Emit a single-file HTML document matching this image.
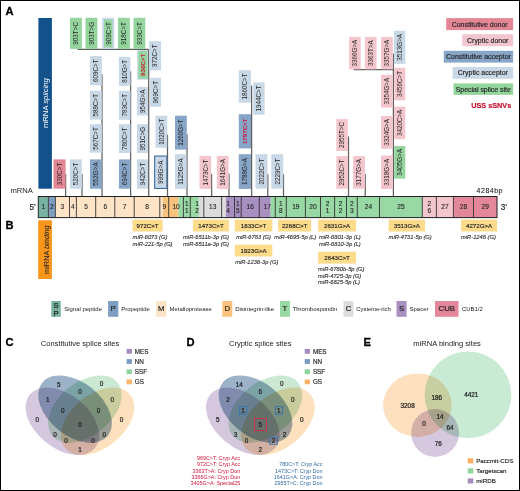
<!DOCTYPE html>
<html><head><meta charset="utf-8"><title>Figure</title>
<style>html,body{margin:0;padding:0;background:#fff;} svg{display:block;} text{font-family:'Liberation Sans', Arial, Helvetica, sans-serif;} .h{stroke:#222;stroke-width:0.22px;} .h2{stroke:#222;stroke-width:0.1px;} .h3{stroke:#222;stroke-width:0.15px;}</style>
</head><body>
<svg width="520" height="491" viewBox="0 0 520 491">
<rect x="0.5" y="0.5" width="519" height="490" fill="#fff" stroke="#000" stroke-width="1"/>
<text x="5.5" y="14.7" font-size="11.2" font-weight="bold" fill="#000" stroke="#000" stroke-width="0.3">A</text>
<text x="5.6" y="229.1" font-size="11.2" font-weight="bold" fill="#000" stroke="#000" stroke-width="0.3">B</text>
<text x="5.6" y="345.7" font-size="11.2" font-weight="bold" fill="#000" stroke="#000" stroke-width="0.3">C</text>
<text x="186.6" y="345.7" font-size="11.2" font-weight="bold" fill="#000" stroke="#000" stroke-width="0.3">D</text>
<text x="363.4" y="345.7" font-size="11.2" font-weight="bold" fill="#000" stroke="#000" stroke-width="0.3">E</text>
<rect x="38.4" y="18" width="13.5" height="170.7" fill="#12518a"/>
<text transform="translate(47.9,103.1) rotate(-90)" text-anchor="middle" font-size="7.7" fill="#fff">mRNA <tspan font-style="italic">splicing</tspan></text>
<rect x="38.2" y="220.3" width="13.7" height="58.7" fill="#f9951a"/>
<text transform="translate(48.6,249.6) rotate(-90)" text-anchor="middle" font-size="7.35" fill="#222">miRNA <tspan font-style="italic">binding</tspan></text>
<line x1="65.6" y1="174" x2="65.6" y2="196.5" stroke="#606060" stroke-width="1.25"/>
<line x1="82.0" y1="174" x2="82.0" y2="196.5" stroke="#606060" stroke-width="1.25"/>
<line x1="102.0" y1="74.2" x2="102.0" y2="196.5" stroke="#606060" stroke-width="1.25"/>
<line x1="130.6" y1="71.4" x2="130.6" y2="196.5" stroke="#606060" stroke-width="1.25"/>
<line x1="148.7" y1="49.4" x2="148.7" y2="196.5" stroke="#606060" stroke-width="1.25"/>
<line x1="167.5" y1="134.6" x2="167.5" y2="196.5" stroke="#606060" stroke-width="1.25"/>
<line x1="187.0" y1="134.6" x2="187.0" y2="196.5" stroke="#606060" stroke-width="1.25"/>
<line x1="211.6" y1="173.8" x2="211.6" y2="196.5" stroke="#606060" stroke-width="1.25"/>
<line x1="229.0" y1="173.8" x2="229.0" y2="196.5" stroke="#606060" stroke-width="1.25"/>
<line x1="251.6" y1="85.6" x2="251.6" y2="196.5" stroke="#606060" stroke-width="1.25"/>
<line x1="267.8" y1="174.3" x2="267.8" y2="196.5" stroke="#606060" stroke-width="1.25"/>
<line x1="283.5" y1="174.3" x2="283.5" y2="196.5" stroke="#606060" stroke-width="1.25"/>
<line x1="348.5" y1="136.6" x2="348.5" y2="196.5" stroke="#606060" stroke-width="1.25"/>
<line x1="365.2" y1="174.1" x2="365.2" y2="196.5" stroke="#606060" stroke-width="1.25"/>
<line x1="393.4" y1="53.4" x2="393.4" y2="196.5" stroke="#606060" stroke-width="1.25"/>
<line x1="77.5" y1="49.4" x2="148.7" y2="49.4" stroke="#606060" stroke-width="1.25"/>
<line x1="353.6" y1="69.7" x2="393.4" y2="69.7" stroke="#606060" stroke-width="1.25"/>
<rect x="70.0" y="17.8" width="11.90" height="31.10" fill="#94d59e"/>
<text transform="translate(78.25,33.35) rotate(-90)" text-anchor="middle" font-size="6.3" fill="#222222">903T&gt;C</text>
<rect x="85.5" y="17.8" width="11.90" height="31.10" fill="#94d59e"/>
<text transform="translate(93.75,33.35) rotate(-90)" text-anchor="middle" font-size="6.3" fill="#222222">903T&gt;G</text>
<rect x="102.2" y="17.8" width="12.00" height="31.10" fill="#c9d8e6"/>
<rect x="104.0" y="19.5" width="8.40" height="27.90" fill="#94d59e"/>
<text transform="translate(110.50,33.35) rotate(-90)" text-anchor="middle" font-size="6.3" fill="#222222">909C&gt;T</text>
<rect x="118.0" y="17.8" width="11.80" height="31.10" fill="#94d59e"/>
<text transform="translate(126.20,33.35) rotate(-90)" text-anchor="middle" font-size="6.3" fill="#222222">918C&gt;T</text>
<rect x="133.5" y="17.8" width="11.80" height="31.10" fill="#94d59e"/>
<text transform="translate(141.70,33.35) rotate(-90)" text-anchor="middle" font-size="6.3" fill="#222222">933C&gt;T</text>
<rect x="90.0" y="56.1" width="11.80" height="29.10" fill="#c9d8e6"/>
<text transform="translate(98.20,70.65) rotate(-90)" text-anchor="middle" font-size="6.3" fill="#222222">609C&gt;T</text>
<rect x="90.0" y="90.8" width="11.80" height="28.80" fill="#c9d8e6"/>
<text transform="translate(98.20,105.20) rotate(-90)" text-anchor="middle" font-size="6.3" fill="#222222">588C&gt;T</text>
<rect x="90.0" y="124.2" width="11.80" height="28.40" fill="#c9d8e6"/>
<text transform="translate(98.20,138.40) rotate(-90)" text-anchor="middle" font-size="6.3" fill="#222222">567C&gt;T</text>
<rect x="90.0" y="159.4" width="11.80" height="29.30" fill="#86a5c7"/>
<text transform="translate(98.20,174.05) rotate(-90)" text-anchor="middle" font-size="6.3" fill="#222222">552G&gt;A</text>
<rect x="118.9" y="56.9" width="11.60" height="28.90" fill="#c9d8e6"/>
<text transform="translate(127.00,71.35) rotate(-90)" text-anchor="middle" font-size="6.3" fill="#222222">810G&gt;T</text>
<rect x="118.9" y="90.8" width="11.60" height="29.00" fill="#c9d8e6"/>
<text transform="translate(127.00,105.30) rotate(-90)" text-anchor="middle" font-size="6.3" fill="#222222">783C&gt;T</text>
<rect x="118.9" y="124.2" width="11.60" height="28.80" fill="#c9d8e6"/>
<text transform="translate(127.00,138.60) rotate(-90)" text-anchor="middle" font-size="6.3" fill="#222222">780C&gt;T</text>
<rect x="118.9" y="159.4" width="11.60" height="29.30" fill="#86a5c7"/>
<text transform="translate(127.00,174.05) rotate(-90)" text-anchor="middle" font-size="6.3" fill="#222222">694C&gt;T</text>
<rect x="137.2" y="50.0" width="10.70" height="29.80" fill="#c9d8e6"/>
<rect x="138.39999999999998" y="51.1" width="9.00" height="27.60" fill="#94d59e"/>
<text transform="translate(144.85,64.90) rotate(-90)" text-anchor="middle" font-size="6.2" font-weight="bold" fill="#cc1238">936C&gt;T</text>
<rect x="137.0" y="87.0" width="10.90" height="28.50" fill="#c9d8e6"/>
<text transform="translate(144.75,101.25) rotate(-90)" text-anchor="middle" font-size="6.3" fill="#222222">954G&gt;A</text>
<rect x="137.0" y="124.2" width="10.90" height="28.80" fill="#c9d8e6"/>
<text transform="translate(144.75,138.60) rotate(-90)" text-anchor="middle" font-size="6.3" fill="#222222">951C&gt;G</text>
<rect x="137.0" y="159.4" width="10.90" height="29.30" fill="#c9d8e6"/>
<text transform="translate(144.75,174.05) rotate(-90)" text-anchor="middle" font-size="6.3" fill="#222222">942C&gt;T</text>
<rect x="149.1" y="41.2" width="12.00" height="29.20" fill="#c9d8e6"/>
<text transform="translate(157.40,55.80) rotate(-90)" text-anchor="middle" font-size="6.3" fill="#222222">972C&gt;T</text>
<rect x="150.2" y="77.8" width="10.90" height="29.00" fill="#c9d8e6"/>
<text transform="translate(157.95,92.30) rotate(-90)" text-anchor="middle" font-size="6.3" fill="#222222">969C&gt;T</text>
<rect x="155.5" y="115.7" width="11.70" height="32.10" fill="#c9d8e6"/>
<text transform="translate(163.65,131.75) rotate(-90)" text-anchor="middle" font-size="6.3" fill="#222222">1020C&gt;T</text>
<rect x="154.65" y="156.05" width="12.20" height="32.40" fill="#c9d8e6" stroke="#3f6f9f" stroke-width="1.1"/>
<text transform="translate(163.05,172.25) rotate(-90)" text-anchor="middle" font-size="6.3" fill="#222222">999G&gt;A</text>
<rect x="175.0" y="115.7" width="11.80" height="33.90" fill="#86a5c7"/>
<text transform="translate(183.20,132.65) rotate(-90)" text-anchor="middle" font-size="6.3" fill="#222222">1260G&gt;T</text>
<rect x="175.0" y="154.2" width="11.50" height="34.70" fill="#c9d8e6"/>
<text transform="translate(183.05,171.55) rotate(-90)" text-anchor="middle" font-size="6.3" fill="#222222">1125G&gt;A</text>
<rect x="199.5" y="155.9" width="11.70" height="33.00" fill="#f3c6cd"/>
<text transform="translate(207.65,172.40) rotate(-90)" text-anchor="middle" font-size="6.3" fill="#222222">1473C&gt;T</text>
<rect x="216.8" y="155.9" width="11.80" height="33.00" fill="#f3c6cd"/>
<text transform="translate(225.00,172.40) rotate(-90)" text-anchor="middle" font-size="6.3" fill="#222222">1641G&gt;A</text>
<rect x="238.8" y="70.2" width="12.20" height="32.40" fill="#c9d8e6"/>
<text transform="translate(247.20,86.40) rotate(-90)" text-anchor="middle" font-size="6.3" fill="#222222">1860C&gt;T</text>
<rect x="238.8" y="114.2" width="12.20" height="34.20" fill="#86a5c7"/>
<text transform="translate(247.20,131.30) rotate(-90)" text-anchor="middle" font-size="6.2" font-weight="bold" fill="#cc1238">1797C&gt;T</text>
<rect x="238.8" y="154.2" width="12.20" height="34.70" fill="#86a5c7"/>
<text transform="translate(247.20,171.55) rotate(-90)" text-anchor="middle" font-size="6.3" fill="#222222">1788G&gt;A</text>
<rect x="253.3" y="82.4" width="11.30" height="32.30" fill="#c9d8e6"/>
<text transform="translate(261.25,98.55) rotate(-90)" text-anchor="middle" font-size="6.3" fill="#222222">1944C&gt;T</text>
<rect x="255.5" y="154.2" width="11.90" height="34.40" fill="#c9d8e6"/>
<text transform="translate(263.75,171.40) rotate(-90)" text-anchor="middle" font-size="6.3" fill="#222222">2022C&gt;T</text>
<rect x="271.3" y="154.2" width="11.90" height="34.40" fill="#c9d8e6"/>
<text transform="translate(279.55,171.40) rotate(-90)" text-anchor="middle" font-size="6.3" fill="#222222">2229C&gt;T</text>
<rect x="336.3" y="119.1" width="11.60" height="31.90" fill="#f3c6cd"/>
<text transform="translate(344.40,135.05) rotate(-90)" text-anchor="middle" font-size="6.3" fill="#222222">2955T&gt;C</text>
<rect x="336.3" y="156.1" width="11.60" height="32.60" fill="#f3c6cd"/>
<text transform="translate(344.40,172.40) rotate(-90)" text-anchor="middle" font-size="6.3" fill="#222222">2952C&gt;T</text>
<rect x="353.1" y="156.1" width="11.80" height="32.60" fill="#f3c6cd"/>
<text transform="translate(361.30,172.40) rotate(-90)" text-anchor="middle" font-size="6.3" fill="#222222">3177G&gt;A</text>
<rect x="349.1" y="36.9" width="11.60" height="32.40" fill="#f3c6cd"/>
<text transform="translate(357.20,53.10) rotate(-90)" text-anchor="middle" font-size="6.3" fill="#222222">3366G&gt;A</text>
<rect x="364.8" y="36.9" width="11.80" height="32.40" fill="#f3c6cd"/>
<text transform="translate(373.00,53.10) rotate(-90)" text-anchor="middle" font-size="6.3" fill="#222222">3363T&gt;A</text>
<rect x="381.0" y="36.9" width="11.80" height="32.40" fill="#f3c6cd"/>
<text transform="translate(389.20,53.10) rotate(-90)" text-anchor="middle" font-size="6.3" fill="#222222">3357G&gt;A</text>
<rect x="381.0" y="74.8" width="11.80" height="32.80" fill="#f3c6cd"/>
<text transform="translate(389.20,91.20) rotate(-90)" text-anchor="middle" font-size="6.3" fill="#222222">3354G&gt;A</text>
<rect x="381.0" y="116.0" width="11.80" height="32.80" fill="#f3c6cd"/>
<text transform="translate(389.20,132.40) rotate(-90)" text-anchor="middle" font-size="6.3" fill="#222222">3324G&gt;A</text>
<rect x="381.0" y="155.5" width="11.80" height="33.50" fill="#f3c6cd"/>
<text transform="translate(389.20,172.25) rotate(-90)" text-anchor="middle" font-size="6.3" fill="#222222">3318G&gt;A</text>
<rect x="393.9" y="30.8" width="11.40" height="33.10" fill="#c9d8e6"/>
<text transform="translate(401.90,47.35) rotate(-90)" text-anchor="middle" font-size="6.3" fill="#222222">3513G&gt;A</text>
<rect x="394.2" y="67.8" width="11.10" height="32.50" fill="#f3c6cd"/>
<text transform="translate(402.05,84.05) rotate(-90)" text-anchor="middle" font-size="6.3" fill="#222222">3456C&gt;T</text>
<rect x="394.2" y="106.6" width="11.10" height="32.60" fill="#f3c6cd"/>
<text transform="translate(402.05,122.90) rotate(-90)" text-anchor="middle" font-size="6.3" fill="#222222">3420C&gt;A</text>
<rect x="394.2" y="146.0" width="11.10" height="32.60" fill="#94d59e"/>
<text transform="translate(402.05,162.30) rotate(-90)" text-anchor="middle" font-size="6.3" fill="#222222">3405G&gt;A</text>
<rect x="53.5" y="159.4" width="12.10" height="29.30" fill="#e38696"/>
<text transform="translate(61.85,174.05) rotate(-90)" text-anchor="middle" font-size="6.3" fill="#222222">330C&gt;T</text>
<rect x="69.9" y="159.4" width="11.90" height="29.30" fill="#c9d8e6"/>
<text transform="translate(78.15,174.05) rotate(-90)" text-anchor="middle" font-size="6.3" fill="#222222">520C&gt;T</text>
<rect x="446.2" y="18.1" width="66.90" height="12.00" fill="#e38696"/>
<text x="479.65" y="26.60" text-anchor="middle" font-size="6.95" class="h3" fill="#222">Constitutive donor</text>
<rect x="462.3" y="34.2" width="50.80" height="12.00" fill="#f3c6cd"/>
<text x="487.70" y="42.70" text-anchor="middle" font-size="6.95" class="h3" fill="#222">Cryptic donor</text>
<rect x="443.8" y="50.8" width="69.30" height="11.80" fill="#86a5c7"/>
<text x="478.45" y="59.20" text-anchor="middle" font-size="6.95" class="h3" fill="#222">Constitutive acceptor</text>
<rect x="452.6" y="67.0" width="60.50" height="11.80" fill="#c9d8e6"/>
<text x="482.85" y="75.40" text-anchor="middle" font-size="6.95" class="h3" fill="#222">Cryptic acceptor</text>
<rect x="453.5" y="83.4" width="59.60" height="11.50" fill="#94d59e"/>
<text x="483.30" y="91.65" text-anchor="middle" font-size="6.95" class="h3" fill="#222">Special splice site</text>
<text x="511.3" y="108.4" text-anchor="end" font-size="7.3" font-weight="bold" fill="#c8102e" stroke="#c8102e" stroke-width="0.15">USS sSNVs</text>
<rect x="38.3" y="196.5" width="10.10" height="21.10" fill="#78b2a2"/>
<rect x="48.4" y="196.5" width="7.00" height="21.10" fill="#7d9dc1"/>
<rect x="55.4" y="196.5" width="107.60" height="21.10" fill="#fde4c6"/>
<rect x="163.0" y="196.5" width="15.50" height="21.10" fill="#f9c27e"/>
<rect x="178.5" y="196.5" width="20.40" height="21.10" fill="#98d8a4"/>
<rect x="198.9" y="196.5" width="26.90" height="21.10" fill="#dcdcdc"/>
<rect x="225.8" y="196.5" width="44.90" height="21.10" fill="#a891c1"/>
<rect x="270.7" y="196.5" width="151.60" height="21.10" fill="#98d8a4"/>
<rect x="422.3" y="196.5" width="31.10" height="21.10" fill="#f3c6cd"/>
<rect x="453.4" y="196.5" width="43.60" height="21.10" fill="#e2889a"/>
<line x1="48.4" y1="196.5" x2="48.4" y2="217.6" stroke="#333" stroke-width="0.9"/>
<line x1="55.4" y1="196.5" x2="55.4" y2="217.6" stroke="#333" stroke-width="0.9"/>
<line x1="69.5" y1="196.5" x2="69.5" y2="217.6" stroke="#333" stroke-width="0.9"/>
<line x1="76.4" y1="196.5" x2="76.4" y2="217.6" stroke="#333" stroke-width="0.9"/>
<line x1="95.7" y1="196.5" x2="95.7" y2="217.6" stroke="#333" stroke-width="0.9"/>
<line x1="114.8" y1="196.5" x2="114.8" y2="217.6" stroke="#333" stroke-width="0.9"/>
<line x1="134.2" y1="196.5" x2="134.2" y2="217.6" stroke="#333" stroke-width="0.9"/>
<line x1="159.8" y1="196.5" x2="159.8" y2="217.6" stroke="#333" stroke-width="0.9"/>
<line x1="168.7" y1="196.5" x2="168.7" y2="217.6" stroke="#333" stroke-width="0.9"/>
<line x1="183.4" y1="196.5" x2="183.4" y2="217.6" stroke="#333" stroke-width="0.9"/>
<line x1="190.3" y1="196.5" x2="190.3" y2="217.6" stroke="#333" stroke-width="0.9"/>
<line x1="203.8" y1="196.5" x2="203.8" y2="217.6" stroke="#333" stroke-width="0.9"/>
<line x1="221.6" y1="196.5" x2="221.6" y2="217.6" stroke="#333" stroke-width="0.9"/>
<line x1="234.5" y1="196.5" x2="234.5" y2="217.6" stroke="#333" stroke-width="0.9"/>
<line x1="241.2" y1="196.5" x2="241.2" y2="217.6" stroke="#333" stroke-width="0.9"/>
<line x1="259.3" y1="196.5" x2="259.3" y2="217.6" stroke="#333" stroke-width="0.9"/>
<line x1="275.3" y1="196.5" x2="275.3" y2="217.6" stroke="#333" stroke-width="0.9"/>
<line x1="286.3" y1="196.5" x2="286.3" y2="217.6" stroke="#333" stroke-width="0.9"/>
<line x1="305.4" y1="196.5" x2="305.4" y2="217.6" stroke="#333" stroke-width="0.9"/>
<line x1="320.5" y1="196.5" x2="320.5" y2="217.6" stroke="#333" stroke-width="0.9"/>
<line x1="334.6" y1="196.5" x2="334.6" y2="217.6" stroke="#333" stroke-width="0.9"/>
<line x1="346.5" y1="196.5" x2="346.5" y2="217.6" stroke="#333" stroke-width="0.9"/>
<line x1="357.3" y1="196.5" x2="357.3" y2="217.6" stroke="#333" stroke-width="0.9"/>
<line x1="379.5" y1="196.5" x2="379.5" y2="217.6" stroke="#333" stroke-width="0.9"/>
<line x1="422.3" y1="196.5" x2="422.3" y2="217.6" stroke="#333" stroke-width="0.9"/>
<line x1="436.4" y1="196.5" x2="436.4" y2="217.6" stroke="#333" stroke-width="0.9"/>
<line x1="453.4" y1="196.5" x2="453.4" y2="217.6" stroke="#333" stroke-width="0.9"/>
<line x1="473.5" y1="196.5" x2="473.5" y2="217.6" stroke="#333" stroke-width="0.9"/>
<rect x="38.3" y="196.5" width="458.70" height="21.10" fill="none" stroke="#222" stroke-width="1"/>
<text x="43.35" y="209.45" text-anchor="middle" font-size="6.6" class="h2" fill="#222">1</text>
<text x="51.90" y="209.45" text-anchor="middle" font-size="6.6" class="h2" fill="#222">2</text>
<text x="62.45" y="209.45" text-anchor="middle" font-size="6.6" class="h2" fill="#222">3</text>
<text x="72.95" y="209.45" text-anchor="middle" font-size="6.6" class="h2" fill="#222">4</text>
<text x="86.05" y="209.45" text-anchor="middle" font-size="6.6" class="h2" fill="#222">5</text>
<text x="105.25" y="209.45" text-anchor="middle" font-size="6.6" class="h2" fill="#222">6</text>
<text x="124.50" y="209.45" text-anchor="middle" font-size="6.6" class="h2" fill="#222">7</text>
<text x="147.00" y="209.45" text-anchor="middle" font-size="6.6" class="h2" fill="#222">8</text>
<text x="164.25" y="209.45" text-anchor="middle" font-size="6.6" class="h2" fill="#222">9</text>
<text x="176.05" y="209.45" text-anchor="middle" font-size="6.6" class="h2" fill="#222">10</text>
<text x="186.85" y="206.45" text-anchor="middle" font-size="6.6" class="h2" fill="#222">1</text>
<text x="186.85" y="212.65" text-anchor="middle" font-size="6.6" class="h2" fill="#222">1</text>
<text x="197.05" y="206.45" text-anchor="middle" font-size="6.6" class="h2" fill="#222">1</text>
<text x="197.05" y="212.65" text-anchor="middle" font-size="6.6" class="h2" fill="#222">2</text>
<text x="212.70" y="209.45" text-anchor="middle" font-size="6.6" class="h2" fill="#222">13</text>
<text x="228.05" y="206.45" text-anchor="middle" font-size="6.6" class="h2" fill="#222">1</text>
<text x="228.05" y="212.65" text-anchor="middle" font-size="6.6" class="h2" fill="#222">4</text>
<text x="237.85" y="206.45" text-anchor="middle" font-size="6.6" class="h2" fill="#222">1</text>
<text x="237.85" y="212.65" text-anchor="middle" font-size="6.6" class="h2" fill="#222">5</text>
<text x="250.25" y="209.45" text-anchor="middle" font-size="6.6" class="h2" fill="#222">16</text>
<text x="267.30" y="209.45" text-anchor="middle" font-size="6.6" class="h2" fill="#222">17</text>
<text x="280.80" y="206.45" text-anchor="middle" font-size="6.6" class="h2" fill="#222">1</text>
<text x="280.80" y="212.65" text-anchor="middle" font-size="6.6" class="h2" fill="#222">8</text>
<text x="295.85" y="209.45" text-anchor="middle" font-size="6.6" class="h2" fill="#222">19</text>
<text x="312.95" y="209.45" text-anchor="middle" font-size="6.6" class="h2" fill="#222">20</text>
<text x="327.55" y="206.45" text-anchor="middle" font-size="6.6" class="h2" fill="#222">2</text>
<text x="327.55" y="212.65" text-anchor="middle" font-size="6.6" class="h2" fill="#222">1</text>
<text x="340.55" y="206.45" text-anchor="middle" font-size="6.6" class="h2" fill="#222">2</text>
<text x="340.55" y="212.65" text-anchor="middle" font-size="6.6" class="h2" fill="#222">2</text>
<text x="351.90" y="206.45" text-anchor="middle" font-size="6.6" class="h2" fill="#222">2</text>
<text x="351.90" y="212.65" text-anchor="middle" font-size="6.6" class="h2" fill="#222">3</text>
<text x="368.40" y="209.45" text-anchor="middle" font-size="6.6" class="h2" fill="#222">24</text>
<text x="400.90" y="209.45" text-anchor="middle" font-size="6.6" class="h2" fill="#222">25</text>
<text x="429.35" y="206.45" text-anchor="middle" font-size="6.6" class="h2" fill="#222">2</text>
<text x="429.35" y="212.65" text-anchor="middle" font-size="6.6" class="h2" fill="#222">6</text>
<text x="444.90" y="209.45" text-anchor="middle" font-size="6.6" class="h2" fill="#222">27</text>
<text x="463.45" y="209.45" text-anchor="middle" font-size="6.6" class="h2" fill="#222">28</text>
<text x="485.25" y="209.45" text-anchor="middle" font-size="6.6" class="h2" fill="#222">29</text>
<text x="32.8" y="193.3" text-anchor="end" font-size="7.6" fill="#222">mRNA</text>
<text x="29.5" y="210.0" font-size="8.2" class="h3" fill="#222">5’</text>
<text x="500.7" y="210.0" font-size="8.2" class="h3" fill="#222">3’</text>
<text x="476.6" y="192.8" font-size="7.0" letter-spacing="0.5" class="h2" fill="#222">4284bp</text>
<rect x="132.6" y="219.6" width="30.00" height="11.90" fill="#fcdb8b"/>
<text x="147.60" y="227.75" text-anchor="middle" font-size="6.15" class="h3" fill="#222">972C&gt;T</text>
<text x="132.6" y="238.9" text-anchor="start" font-size="5.75" font-style="italic" class="h2" fill="#2a2a2a">miR-6073 (G)</text>
<text x="132.6" y="245.6" text-anchor="start" font-size="5.75" font-style="italic" class="h2" fill="#2a2a2a">miR-221-5p (G)</text>
<rect x="192.9" y="219.6" width="36.10" height="11.90" fill="#fcdb8b"/>
<text x="210.95" y="227.75" text-anchor="middle" font-size="6.15" class="h3" fill="#222">1473C&gt;T</text>
<text x="229.0" y="238.9" text-anchor="end" font-size="5.75" font-style="italic" class="h2" fill="#2a2a2a">miR-6511b-3p (G)</text>
<text x="229.0" y="245.6" text-anchor="end" font-size="5.75" font-style="italic" class="h2" fill="#2a2a2a">miR-6511a-3p (G)</text>
<rect x="234.8" y="219.6" width="37.50" height="11.90" fill="#fcdb8b"/>
<text x="253.55" y="227.75" text-anchor="middle" font-size="6.15" class="h3" fill="#222">1833C&gt;T</text>
<text x="253.6" y="238.7" text-anchor="middle" font-size="5.75" font-style="italic" class="h2" fill="#2a2a2a">miR-6783 (G)</text>
<rect x="234.8" y="244.7" width="37.50" height="11.80" fill="#fcdb8b"/>
<text x="253.55" y="252.80" text-anchor="middle" font-size="6.15" class="h3" fill="#222">1923G&gt;A</text>
<text x="235.2" y="263.5" text-anchor="start" font-size="5.75" font-style="italic" class="h2" fill="#2a2a2a">miR-1236-3p (G)</text>
<rect x="278.1" y="219.6" width="33.10" height="11.90" fill="#fcdb8b"/>
<text x="294.65" y="227.75" text-anchor="middle" font-size="6.15" class="h3" fill="#222">2268C&gt;T</text>
<text x="295.3" y="238.7" text-anchor="middle" font-size="5.75" font-style="italic" class="h2" fill="#2a2a2a">miR-4695-5p (L)</text>
<rect x="318.1" y="219.6" width="37.90" height="11.90" fill="#fcdb8b"/>
<text x="337.05" y="227.75" text-anchor="middle" font-size="6.15" class="h3" fill="#222">2631G&gt;A</text>
<text x="318.9" y="238.9" text-anchor="start" font-size="5.75" font-style="italic" class="h2" fill="#2a2a2a">miR-6801-3p (L)</text>
<text x="318.9" y="245.6" text-anchor="start" font-size="5.75" font-style="italic" class="h2" fill="#2a2a2a">miR-6810-3p (L)</text>
<rect x="318.1" y="251.7" width="37.90" height="11.90" fill="#fcdb8b"/>
<text x="337.05" y="259.85" text-anchor="middle" font-size="6.15" class="h3" fill="#222">2643C&gt;T</text>
<text x="318.1" y="271.0" text-anchor="start" font-size="5.75" font-style="italic" class="h2" fill="#2a2a2a">miR-6780b-5p (G)</text>
<text x="318.1" y="277.7" text-anchor="start" font-size="5.75" font-style="italic" class="h2" fill="#2a2a2a">miR-4725-3p (G)</text>
<text x="318.1" y="284.4" text-anchor="start" font-size="5.75" font-style="italic" class="h2" fill="#2a2a2a">miR-6825-5p (L)</text>
<rect x="388.6" y="219.6" width="36.40" height="11.90" fill="#fcdb8b"/>
<text x="406.80" y="227.75" text-anchor="middle" font-size="6.15" class="h3" fill="#222">3513G&gt;A</text>
<text x="388.6" y="239.0" text-anchor="start" font-size="5.75" font-style="italic" class="h2" fill="#2a2a2a">miR-4731-5p (G)</text>
<rect x="461.0" y="219.6" width="36.10" height="11.90" fill="#fcdb8b"/>
<text x="479.05" y="227.75" text-anchor="middle" font-size="6.15" class="h3" fill="#222">4272G&gt;A</text>
<text x="461.0" y="239.0" text-anchor="start" font-size="5.75" font-style="italic" class="h2" fill="#2a2a2a">miR-1248 (G)</text>
<rect x="51.3" y="301.0" width="9.50" height="15.8" fill="#78b2a2"/>
<text x="56.05" y="308.0" text-anchor="middle" font-size="7.6" fill="#222" stroke="#222" stroke-width="0.25">S</text>
<text x="56.05" y="315.6" text-anchor="middle" font-size="7.6" fill="#222" stroke="#222" stroke-width="0.25">P</text>
<text x="64.3" y="311.2" font-size="5.95" fill="#222">Signal peptide</text>
<rect x="108.1" y="301.0" width="10.20" height="15.8" fill="#7d9dc1"/>
<text x="113.20" y="311.4" text-anchor="middle" font-size="7.8" fill="#222" stroke="#222" stroke-width="0.2">P</text>
<text x="121.2" y="311.2" font-size="5.95" fill="#222">Propeptide</text>
<rect x="156.2" y="301.0" width="10.10" height="15.8" fill="#fde4c6"/>
<text x="161.25" y="311.4" text-anchor="middle" font-size="7.8" fill="#222" stroke="#222" stroke-width="0.2">M</text>
<text x="169.6" y="311.2" font-size="5.95" fill="#222">Metalloprotease</text>
<rect x="222.3" y="301.0" width="10.00" height="15.8" fill="#f9c27e"/>
<text x="227.30" y="311.4" text-anchor="middle" font-size="7.8" fill="#222" stroke="#222" stroke-width="0.2">D</text>
<text x="235.2" y="311.2" font-size="5.95" fill="#222">Disintegrin-like</text>
<rect x="280.0" y="301.0" width="10.00" height="15.8" fill="#98d8a4"/>
<text x="285.00" y="311.4" text-anchor="middle" font-size="7.8" fill="#222" stroke="#222" stroke-width="0.2">T</text>
<text x="292.7" y="311.2" font-size="5.95" fill="#222">Thrombospondin</text>
<rect x="343.5" y="301.0" width="9.90" height="15.8" fill="#dcdcdc"/>
<text x="348.45" y="311.4" text-anchor="middle" font-size="7.8" fill="#222" stroke="#222" stroke-width="0.2">C</text>
<text x="356.2" y="311.2" font-size="5.95" fill="#222">Cysteine-rich</text>
<rect x="396.5" y="301.0" width="10.10" height="15.8" fill="#a891c1"/>
<text x="401.55" y="311.4" text-anchor="middle" font-size="7.8" fill="#222" stroke="#222" stroke-width="0.2">S</text>
<text x="409.6" y="311.2" font-size="5.95" fill="#222">Spacer</text>
<rect x="435.0" y="301.0" width="23.50" height="15.8" fill="#e2889a"/>
<text x="446.75" y="311.4" text-anchor="middle" font-size="7.8" fill="#222" stroke="#222" stroke-width="0.2">CUB</text>
<text x="462.0" y="311.2" font-size="5.95" fill="#222">CUB1/2</text>
<text x="80.0" y="345.8" text-anchor="middle" font-size="7.55" fill="#222">Constitutive splice sites</text>
<ellipse cx="62.40" cy="421.30" rx="42.2" ry="26.7" transform="rotate(39 62.40 421.30)" fill="#d5c7dd" style="mix-blend-mode:multiply"/>
<ellipse cx="75.10" cy="409.10" rx="42.2" ry="26.7" transform="rotate(39 75.10 409.10)" fill="#9bb2c9" style="mix-blend-mode:multiply"/>
<ellipse cx="84.90" cy="409.10" rx="42.2" ry="26.7" transform="rotate(-39 84.90 409.10)" fill="#cbe9d2" style="mix-blend-mode:multiply"/>
<ellipse cx="97.60" cy="421.30" rx="42.2" ry="26.7" transform="rotate(-39 97.60 421.30)" fill="#fde0bd" style="mix-blend-mode:multiply"/>
<text x="58.80" y="386.60" text-anchor="middle" font-size="6.4" class="h" fill="#222">5</text>
<text x="80.00" y="393.50" text-anchor="middle" font-size="6.4" class="h" fill="#222">0</text>
<text x="101.50" y="386.10" text-anchor="middle" font-size="6.4" class="h" fill="#222">0</text>
<text x="47.70" y="401.80" text-anchor="middle" font-size="6.4" class="h" fill="#222">1</text>
<text x="112.30" y="401.80" text-anchor="middle" font-size="6.4" class="h" fill="#222">0</text>
<text x="62.70" y="412.70" text-anchor="middle" font-size="6.4" class="h" fill="#222">0</text>
<text x="98.50" y="412.70" text-anchor="middle" font-size="6.4" class="h" fill="#222">0</text>
<text x="37.30" y="421.50" text-anchor="middle" font-size="6.4" class="h" fill="#222">0</text>
<text x="121.50" y="421.50" text-anchor="middle" font-size="6.4" class="h" fill="#222">0</text>
<text x="80.00" y="426.50" text-anchor="middle" font-size="6.4" class="h" fill="#222">0</text>
<text x="55.10" y="436.50" text-anchor="middle" font-size="6.4" class="h" fill="#222">0</text>
<text x="104.20" y="436.50" text-anchor="middle" font-size="6.4" class="h" fill="#222">0</text>
<text x="66.10" y="442.70" text-anchor="middle" font-size="6.4" class="h" fill="#222">0</text>
<text x="93.10" y="442.70" text-anchor="middle" font-size="6.4" class="h" fill="#222">0</text>
<text x="80.00" y="451.90" text-anchor="middle" font-size="6.4" class="h" fill="#222">1</text>
<rect x="126.60" y="348.90" width="5.3" height="4.8" fill="#a98bbd"/>
<text x="134.80" y="353.70" font-size="6.3" class="h3" fill="#222">MES</text>
<rect x="126.60" y="359.10" width="5.3" height="4.8" fill="#7b9dc4"/>
<text x="134.80" y="363.90" font-size="6.3" class="h3" fill="#222">NN</text>
<rect x="126.60" y="369.30" width="5.3" height="4.8" fill="#90d49c"/>
<text x="134.80" y="374.10" font-size="6.3" class="h3" fill="#222">SSF</text>
<rect x="126.60" y="379.50" width="5.3" height="4.8" fill="#fbb56b"/>
<text x="134.80" y="384.30" font-size="6.3" class="h3" fill="#222">GS</text>
<text x="260.2" y="345.8" text-anchor="middle" font-size="7.55" fill="#222">Cryptic splice sites</text>
<ellipse cx="242.80" cy="421.30" rx="42.2" ry="26.7" transform="rotate(39 242.80 421.30)" fill="#d5c7dd" style="mix-blend-mode:multiply"/>
<ellipse cx="255.50" cy="409.10" rx="42.2" ry="26.7" transform="rotate(39 255.50 409.10)" fill="#9bb2c9" style="mix-blend-mode:multiply"/>
<ellipse cx="265.30" cy="409.10" rx="42.2" ry="26.7" transform="rotate(-39 265.30 409.10)" fill="#cbe9d2" style="mix-blend-mode:multiply"/>
<ellipse cx="278.00" cy="421.30" rx="42.2" ry="26.7" transform="rotate(-39 278.00 421.30)" fill="#fde0bd" style="mix-blend-mode:multiply"/>
<text x="239.20" y="386.60" text-anchor="middle" font-size="6.4" class="h" fill="#222">14</text>
<text x="260.40" y="393.50" text-anchor="middle" font-size="6.4" class="h" fill="#222">6</text>
<text x="281.90" y="386.10" text-anchor="middle" font-size="6.4" class="h" fill="#222">0</text>
<text x="228.10" y="401.80" text-anchor="middle" font-size="6.4" class="h" fill="#222">2</text>
<text x="292.70" y="401.80" text-anchor="middle" font-size="6.4" class="h" fill="#222">0</text>
<text x="243.10" y="412.70" text-anchor="middle" font-size="6.4" class="h" fill="#222">1</text>
<text x="278.90" y="412.70" text-anchor="middle" font-size="6.4" class="h" fill="#222">1</text>
<text x="217.70" y="421.50" text-anchor="middle" font-size="6.4" class="h" fill="#222">5</text>
<text x="301.90" y="421.50" text-anchor="middle" font-size="6.4" class="h" fill="#222">0</text>
<text x="260.40" y="426.50" text-anchor="middle" font-size="6.4" class="h" fill="#222">5</text>
<text x="235.50" y="436.50" text-anchor="middle" font-size="6.4" class="h" fill="#222">3</text>
<text x="284.60" y="436.50" text-anchor="middle" font-size="6.4" class="h" fill="#222">2</text>
<text x="246.50" y="442.70" text-anchor="middle" font-size="6.4" class="h" fill="#222">0</text>
<text x="273.50" y="442.70" text-anchor="middle" font-size="6.4" class="h" fill="#222">2</text>
<text x="260.40" y="451.90" text-anchor="middle" font-size="6.4" class="h" fill="#222">2</text>
<rect x="239.40" y="406.50" width="7.4" height="7.8" fill="none" stroke="#3a75ab" stroke-width="1"/>
<rect x="275.40" y="406.50" width="7.0" height="7.8" fill="none" stroke="#3a75ab" stroke-width="1"/>
<rect x="254.40" y="418.50" width="12" height="12" fill="none" stroke="#c9304e" stroke-width="1"/>
<rect x="269.70" y="436.90" width="7.6" height="7.4" fill="none" stroke="#3a75ab" stroke-width="1"/>
<rect x="304.70" y="348.90" width="5.3" height="4.8" fill="#a98bbd"/>
<text x="312.90" y="353.70" font-size="6.3" class="h3" fill="#222">MES</text>
<rect x="304.70" y="359.10" width="5.3" height="4.8" fill="#7b9dc4"/>
<text x="312.90" y="363.90" font-size="6.3" class="h3" fill="#222">NN</text>
<rect x="304.70" y="369.30" width="5.3" height="4.8" fill="#90d49c"/>
<text x="312.90" y="374.10" font-size="6.3" class="h3" fill="#222">SSF</text>
<rect x="304.70" y="379.50" width="5.3" height="4.8" fill="#fbb56b"/>
<text x="312.90" y="384.30" font-size="6.3" class="h3" fill="#222">GS</text>
<text x="240.2" y="460.10" text-anchor="end" font-size="5.4" fill="#cc1238">969C&gt;T: Cryp Acc</text>
<text x="240.2" y="466.30" text-anchor="end" font-size="5.4" fill="#cc1238">972C&gt;T: Cryp Acc</text>
<text x="240.2" y="472.50" text-anchor="end" font-size="5.4" fill="#cc1238">3363T&gt;A: Cryp Don</text>
<text x="240.2" y="478.70" text-anchor="end" font-size="5.4" fill="#cc1238">3366G&gt;A: Cryp Don</text>
<text x="240.2" y="484.90" text-anchor="end" font-size="5.4" fill="#cc1238">3405G&gt;A: Special25</text>
<text x="322.5" y="466.30" text-anchor="end" font-size="5.4" fill="#2f6aa0">780C&gt;T: Cryp Acc</text>
<text x="322.5" y="472.50" text-anchor="end" font-size="5.4" fill="#2f6aa0">1473C&gt;T: Cryp Don</text>
<text x="322.5" y="478.70" text-anchor="end" font-size="5.4" fill="#2f6aa0">1641G&gt;A: Cryp Don</text>
<text x="322.5" y="484.90" text-anchor="end" font-size="5.4" fill="#2f6aa0">2955T&gt;C: Cryp Don</text>
<text x="447.1" y="345.8" text-anchor="middle" font-size="7.55" fill="#222">miRNA binding sites</text>
<ellipse cx="417.4" cy="405.2" rx="34.3" ry="31.8" fill="#fde0c0" style="mix-blend-mode:multiply"/>
<circle cx="468.0" cy="394.9" r="43.4" fill="#c9ebd4" style="mix-blend-mode:multiply"/>
<circle cx="435.1" cy="433.0" r="23.9" fill="#d5c8df" style="mix-blend-mode:multiply"/>
<text x="407.6" y="408.0" text-anchor="middle" font-size="6.4" class="h" fill="#222">3208</text>
<text x="436.8" y="399.90000000000003" text-anchor="middle" font-size="6.4" class="h" fill="#222">186</text>
<text x="471.3" y="396.5" text-anchor="middle" font-size="6.4" class="h" fill="#222">4421</text>
<text x="440.0" y="419.2" text-anchor="middle" font-size="6.4" class="h" fill="#222">14</text>
<text x="424.0" y="426.3" text-anchor="middle" font-size="6.4" class="h" fill="#222">0</text>
<text x="450.0" y="430.40000000000003" text-anchor="middle" font-size="6.4" class="h" fill="#222">64</text>
<text x="438.3" y="445.8" text-anchor="middle" font-size="6.4" class="h" fill="#222">76</text>
<rect x="467.7" y="458.30" width="5.6" height="5.1" fill="#fbb065"/>
<text x="476.2" y="463.00" font-size="6.2" class="h3" fill="#222">Paccmit-CDS</text>
<rect x="467.7" y="468.35" width="5.6" height="5.1" fill="#8fd49b"/>
<text x="476.2" y="473.05" font-size="6.2" class="h3" fill="#222">Targetscan</text>
<rect x="467.7" y="478.40" width="5.6" height="5.1" fill="#a98bbd"/>
<text x="476.2" y="483.10" font-size="6.2" class="h3" fill="#222">miRDB</text>
</svg>
</body></html>
